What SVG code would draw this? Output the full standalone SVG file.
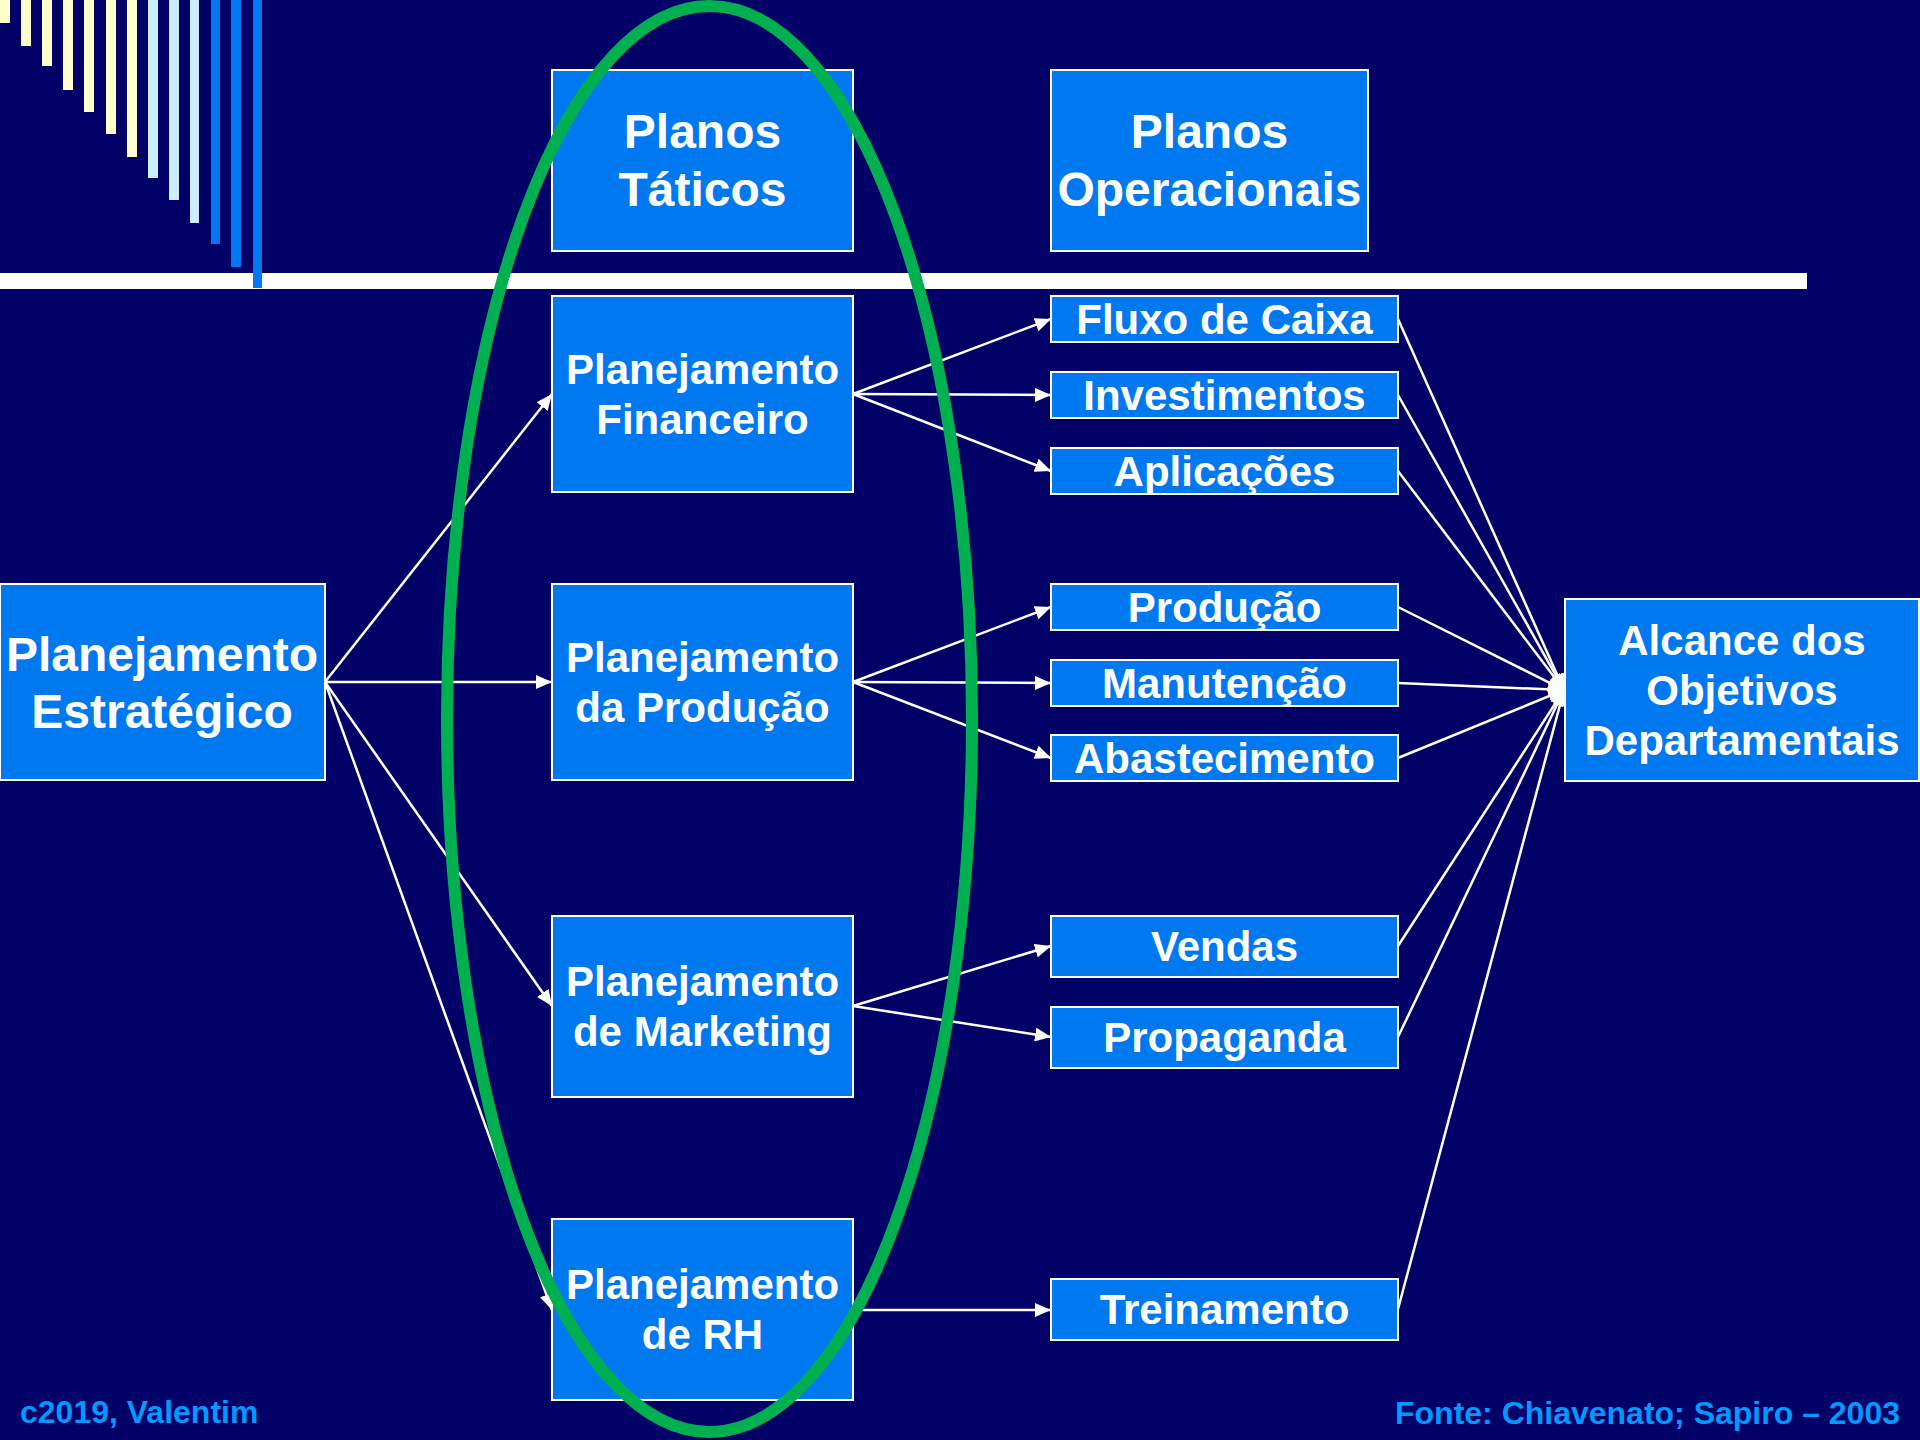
<svg xmlns="http://www.w3.org/2000/svg" width="1920" height="1440" viewBox="0 0 1920 1440">
<style>
.box{fill:#0078F0;stroke:#FFFFFF;stroke-width:2}
.t{font-family:"Liberation Sans",Arial,sans-serif;font-weight:bold;fill:#FFFFFF;text-anchor:middle}
.t48{font-size:48px}
.t42{font-size:42px}
.ft{font-family:"Liberation Sans",Arial,sans-serif;font-weight:bold;fill:#0099FF;font-size:32px}
.c{stroke:#FFFFFF;stroke-width:2.5;fill:none;marker-end:url(#ah)}
.y{fill:#FFFFCC}.lb{fill:#CCECFF}.b{fill:#0078F0}
</style>
<defs>
<marker id="ah" markerUnits="userSpaceOnUse" markerWidth="16" markerHeight="14" refX="16" refY="7" orient="auto">
<path d="M0,0 L16,7 L0,14 z" fill="#FFFFFF"/>
</marker>
</defs>
<rect x="0" y="0" width="1920" height="1440" fill="#000066"/>
<g id="decor">
<rect class="y" x="0" y="0" width="10" height="23"/>
<rect class="y" x="21" y="0" width="10" height="46"/>
<rect class="y" x="42" y="0" width="10" height="66"/>
<rect class="y" x="63" y="0" width="10" height="90"/>
<rect class="y" x="84" y="0" width="10" height="112"/>
<rect class="y" x="106" y="0" width="10" height="134"/>
<rect class="y" x="127" y="0" width="10" height="157"/>
<rect class="lb" x="148" y="0" width="10" height="178"/>
<rect class="lb" x="169" y="0" width="10" height="200"/>
<rect class="lb" x="190" y="0" width="9" height="223"/>
<rect class="b" x="211" y="0" width="9" height="244"/>
<rect class="b" x="231" y="0" width="10" height="267"/>
<rect x="0" y="273" width="1807" height="16" fill="#FFFFFF"/>
<rect class="b" x="253" y="0" width="9" height="288"/>
</g>
<g id="connectors">
<line class="c" x1="325" y1="682" x2="552" y2="394"/>
<line class="c" x1="325" y1="682" x2="552" y2="682"/>
<line class="c" x1="325" y1="682" x2="552" y2="1006"/>
<line class="c" x1="325" y1="682" x2="552" y2="1310"/>
<line class="c" x1="853" y1="394" x2="1051" y2="319"/>
<line class="c" x1="853" y1="394" x2="1051" y2="395"/>
<line class="c" x1="853" y1="394" x2="1051" y2="471"/>
<line class="c" x1="853" y1="682" x2="1051" y2="607"/>
<line class="c" x1="853" y1="682" x2="1051" y2="683"/>
<line class="c" x1="853" y1="682" x2="1051" y2="758"/>
<line class="c" x1="853" y1="1006" x2="1051" y2="946"/>
<line class="c" x1="853" y1="1006" x2="1051" y2="1037"/>
<line class="c" x1="853" y1="1310" x2="1051" y2="1310"/>
<line class="c" x1="1398" y1="319" x2="1564" y2="690"/>
<line class="c" x1="1398" y1="395" x2="1564" y2="690"/>
<line class="c" x1="1398" y1="471" x2="1564" y2="690"/>
<line class="c" x1="1398" y1="607" x2="1564" y2="690"/>
<line class="c" x1="1398" y1="683" x2="1564" y2="690"/>
<line class="c" x1="1398" y1="758" x2="1564" y2="690"/>
<line class="c" x1="1398" y1="946" x2="1564" y2="690"/>
<line class="c" x1="1398" y1="1037" x2="1564" y2="690"/>
<line class="c" x1="1398" y1="1309" x2="1564" y2="690"/>
</g>
<g id="planos-taticos"><rect class="box" x="552" y="70" width="301" height="181"/><text class="t t48" x="702.5" y="148">Planos</text><text class="t t48" x="702.5" y="206">Táticos</text></g>
<g id="planos-operacionais"><rect class="box" x="1051" y="70" width="317" height="181"/><text class="t t48" x="1209.5" y="148">Planos</text><text class="t t48" x="1209.5" y="206">Operacionais</text></g>
<g id="estrategico"><rect class="box" x="0" y="584" width="325" height="196"/><text class="t t48" x="162" y="671">Planejamento</text><text class="t t48" x="162" y="728">Estratégico</text></g>
<g id="financeiro"><rect class="box" x="552" y="296" width="301" height="196"/><text class="t t42" x="702.5" y="384">Planejamento</text><text class="t t42" x="702.5" y="434">Financeiro</text></g>
<g id="producao"><rect class="box" x="552" y="584" width="301" height="196"/><text class="t t42" x="702.5" y="672">Planejamento</text><text class="t t42" x="702.5" y="722">da Produção</text></g>
<g id="marketing"><rect class="box" x="552" y="916" width="301" height="181"/><text class="t t42" x="702.5" y="996">Planejamento</text><text class="t t42" x="702.5" y="1046">de Marketing</text></g>
<g id="rh"><rect class="box" x="552" y="1219" width="301" height="181"/><text class="t t42" x="702.5" y="1299">Planejamento</text><text class="t t42" x="702.5" y="1349">de RH</text></g>
<g id="fluxo"><rect class="box" x="1051" y="296" width="347" height="46"/><text class="t t42" x="1224.5" y="334">Fluxo de Caixa</text></g>
<g id="investimentos"><rect class="box" x="1051" y="372" width="347" height="46"/><text class="t t42" x="1224.5" y="410">Investimentos</text></g>
<g id="aplicacoes"><rect class="box" x="1051" y="448" width="347" height="46"/><text class="t t42" x="1224.5" y="486">Aplicações</text></g>
<g id="prod-op"><rect class="box" x="1051" y="584" width="347" height="46"/><text class="t t42" x="1224.5" y="622">Produção</text></g>
<g id="manutencao"><rect class="box" x="1051" y="660" width="347" height="46"/><text class="t t42" x="1224.5" y="698">Manutenção</text></g>
<g id="abastecimento"><rect class="box" x="1051" y="735" width="347" height="46"/><text class="t t42" x="1224.5" y="773">Abastecimento</text></g>
<g id="vendas"><rect class="box" x="1051" y="916" width="347" height="61"/><text class="t t42" x="1224.5" y="961">Vendas</text></g>
<g id="propaganda"><rect class="box" x="1051" y="1007" width="347" height="61"/><text class="t t42" x="1224.5" y="1052">Propaganda</text></g>
<g id="treinamento"><rect class="box" x="1051" y="1279" width="347" height="61"/><text class="t t42" x="1224.5" y="1324">Treinamento</text></g>
<g id="alcance"><rect class="box" x="1565" y="599" width="354" height="182"/><text class="t t42" x="1742" y="655">Alcance dos</text><text class="t t42" x="1742" y="705">Objetivos</text><text class="t t42" x="1742" y="755">Departamentais</text></g>
<g id="highlight"><ellipse cx="709.5" cy="719" rx="262.5" ry="713" fill="none" stroke="#00B050" stroke-width="12"/></g>
<g id="footer">
<text class="ft" x="20" y="1423">c2019, Valentim</text>
<text class="ft" x="1900" y="1424" text-anchor="end">Fonte: Chiavenato; Sapiro – 2003</text>
</g>
</svg>
